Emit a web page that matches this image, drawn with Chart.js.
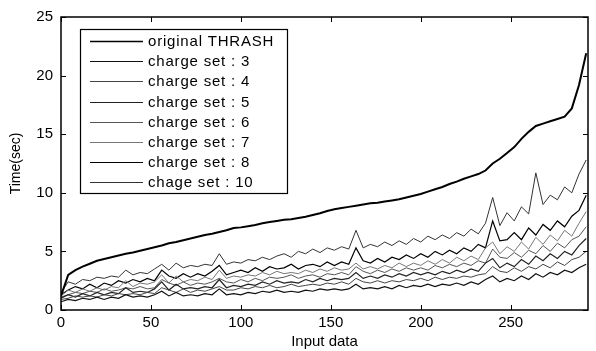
<!DOCTYPE html>
<html>
<head>
<meta charset="utf-8">
<script src="https://cdn.jsdelivr.net/npm/chart.js@4.4.1/dist/chart.umd.min.js"></script>
<style>
html, body { margin: 0; padding: 0; background: #fff; }
#wrap { width: 596px; height: 351px; }
</style>
</head>
<body>
<div id="wrap"><canvas id="timeChart" width="596" height="351"></canvas></div>
<script>
// input data index (x)
var inputX = [
    0, 4, 8, 12, 16, 20, 24, 28, 32, 36,
    40, 44, 48, 52, 56, 60, 64, 68, 72, 76,
    80, 84, 88, 92, 96, 100, 104, 108, 112, 116,
    120, 124, 128, 132, 136, 140, 144, 148, 152, 156,
    160, 164, 168, 172, 176, 180, 184, 188, 192, 196,
    200, 204, 208, 212, 216, 220, 224, 228, 232, 236,
    240, 244, 248, 252, 256, 260, 264, 268, 272, 276,
    280, 284, 288, 292
];

var originalThrash = [
    1.2, 3.0, 3.4, 3.7, 3.95, 4.2, 4.35, 4.5, 4.65, 4.8,
    4.9, 5.05, 5.2, 5.35, 5.5, 5.7, 5.8, 5.95, 6.1, 6.25,
    6.4, 6.5, 6.65, 6.8, 7.0, 7.05, 7.15, 7.25, 7.4, 7.5,
    7.6, 7.7, 7.75, 7.85, 7.95, 8.1, 8.25, 8.45, 8.6, 8.7,
    8.8, 8.9, 9.0, 9.1, 9.15, 9.25, 9.35, 9.45, 9.6, 9.75,
    9.9, 10.1, 10.3, 10.5, 10.75, 10.95, 11.2, 11.4, 11.6, 11.9,
    12.5, 12.9, 13.4, 13.9, 14.6, 15.2, 15.7, 15.9, 16.1, 16.3,
    16.5, 17.2, 19.2, 21.9
];

var chargeSet3 = [
    0.7, 0.9, 0.8, 1.0, 0.9, 1.1, 0.9, 1.1, 1.0, 1.3,
    1.1, 1.2, 1.1, 1.3, 1.6, 1.2, 1.5, 1.2, 1.3, 1.2,
    1.4, 1.3, 1.8, 1.3, 1.4, 1.3, 1.5, 1.4, 1.6, 1.5,
    1.7, 1.5, 1.6, 1.5, 1.7, 1.6, 1.8, 1.7, 1.8, 1.7,
    1.8, 2.2, 1.8, 1.9, 1.8, 2.0, 1.8, 2.1, 1.9, 2.1,
    2.0, 2.2, 2.0, 2.2, 2.1, 2.3, 2.1, 2.4, 2.2, 2.6,
    2.9, 2.4, 2.7, 2.5, 2.9, 2.6, 3.1, 2.8, 3.2, 3.0,
    3.4, 3.2, 3.6, 3.9
];

var chargeSet4 = [
    0.9, 1.0, 1.2, 1.1, 1.2, 1.1, 1.3, 1.2, 1.4, 1.3,
    1.4, 1.3, 1.5, 1.4, 1.9, 1.7, 1.5, 1.8, 1.5, 1.7,
    1.6, 1.8, 2.0, 1.7, 1.7, 1.9, 1.8, 2.0, 1.9, 2.1,
    1.9, 2.0, 2.2, 2.0, 2.1, 2.2, 2.1, 2.3, 2.2, 2.4,
    2.2, 2.7, 2.4, 2.3, 2.5, 2.3, 2.5, 2.4, 2.6, 2.5,
    2.7, 2.5, 2.8, 2.6, 2.8, 2.7, 2.9, 2.8, 3.0, 3.1,
    3.7, 3.3, 3.2, 3.6, 3.3, 3.7, 3.5, 3.9, 3.6, 4.1,
    3.8, 4.3, 4.5, 5.0
];

var chargeSet5 = [
    1.0, 1.3, 1.1, 1.4, 1.2, 1.5, 1.3, 1.5, 1.4, 1.9,
    1.5, 1.6, 1.5, 1.8, 2.4, 1.7, 2.2, 1.8, 1.9, 1.8,
    2.0, 1.9, 2.6, 1.9, 2.1, 2.0, 2.2, 2.1, 2.4, 2.2,
    2.5, 2.3, 2.4, 2.3, 2.6, 2.4, 2.7, 2.5, 2.7, 2.6,
    2.7, 3.2, 2.7, 2.9, 2.7, 3.0, 2.8, 3.1, 2.9, 3.2,
    3.0, 3.2, 3.0, 3.3, 3.1, 3.4, 3.2, 3.5, 3.3, 4.0,
    4.4, 3.6, 4.0, 3.7, 4.3, 3.9, 4.6, 4.2, 4.8, 4.4,
    5.0, 4.7, 5.5, 6.1
];

var chargeSet6 = [
    1.1, 1.3, 1.5, 1.4, 1.6, 1.5, 1.8, 1.6, 1.7, 1.9,
    1.8, 2.0, 1.8, 1.9, 2.6, 2.3, 2.1, 2.4, 2.1, 2.3,
    2.2, 2.4, 2.7, 2.4, 2.3, 2.6, 2.4, 2.7, 2.5, 2.8,
    2.7, 2.8, 3.0, 2.7, 2.9, 3.0, 2.8, 3.1, 3.0, 3.2,
    3.0, 3.7, 3.3, 3.1, 3.4, 3.2, 3.5, 3.3, 3.6, 3.4,
    3.6, 3.4, 3.8, 3.6, 3.9, 3.7, 4.0, 3.8, 4.2, 4.0,
    5.2, 4.5, 4.4, 4.9, 4.5, 5.1, 4.8, 5.5, 5.0, 5.7,
    5.3, 6.0, 6.3, 7.1
];

var chargeSet7 = [
    1.2, 1.7, 1.5, 1.8, 1.6, 1.9, 1.7, 2.0, 1.9, 2.5,
    2.0, 2.3, 2.2, 2.4, 3.0, 2.3, 2.9, 2.4, 2.6, 2.5,
    2.8, 2.6, 3.4, 2.7, 2.9, 2.8, 3.0, 2.9, 3.2, 3.0,
    3.3, 3.1, 3.2, 3.1, 3.4, 3.2, 3.5, 3.3, 3.6, 3.4,
    3.5, 4.0, 3.5, 3.7, 3.5, 3.8, 3.6, 4.0, 3.7, 4.0,
    3.8, 4.2, 3.9, 4.3, 4.0, 4.5, 4.2, 4.6, 4.3, 5.3,
    5.8, 4.8, 5.4, 5.0, 5.8, 5.2, 6.2, 5.6, 6.4, 5.9,
    6.8, 6.3, 7.4, 8.4
];

var chargeSet8 = [
    1.3, 1.7, 2.0, 1.8, 2.2, 1.9, 2.3, 2.1, 2.5, 2.3,
    2.6, 2.4, 2.7, 2.5, 3.4, 2.9, 2.7, 3.1, 2.8, 3.1,
    2.9, 3.3, 3.8, 3.0, 3.2, 3.4, 3.2, 3.6, 3.3, 3.7,
    3.5, 3.6, 3.9, 3.5, 3.8, 3.9, 3.7, 4.1, 3.8, 4.1,
    3.9, 5.3, 4.2, 4.0, 4.4, 4.1, 4.5, 4.3, 4.7, 4.4,
    4.8, 4.5, 5.0, 4.7, 5.1, 4.8, 5.3, 5.0, 5.6, 5.3,
    7.6, 5.9, 6.0, 6.6, 6.0, 7.0, 6.4, 7.3, 6.8, 7.6,
    7.1, 8.0, 8.5, 9.8
];

var chargeSet10 = [
    1.5, 2.4, 2.2, 2.6, 2.5, 2.8, 2.7, 2.9, 2.8, 3.4,
    3.0, 3.2, 3.1, 3.5, 3.9, 3.4, 4.0, 3.6, 3.8, 3.7,
    3.9, 3.8, 4.8, 3.9, 4.1, 4.0, 4.3, 4.2, 4.5, 4.3,
    4.6, 4.8, 4.5, 5.0, 4.8, 5.2, 4.9, 5.3, 5.1, 5.4,
    5.2, 6.8, 5.3, 5.6, 5.4, 5.8, 5.5, 5.9, 5.6, 6.1,
    5.8, 6.3, 6.0, 6.4, 6.1, 6.6, 6.3, 6.9, 6.5, 7.4,
    9.6, 7.2, 8.3, 7.6, 8.8, 8.2, 11.7, 9.0, 9.8, 9.4,
    10.5, 10.0, 11.6, 12.8
];

var seriesLabels = ['original THRASH', 'charge set : 3', 'charge set : 4', 'charge set : 5',
    'charge set : 6', 'charge set : 7', 'charge set : 8', 'chage set : 10'];
var seriesValues = [originalThrash, chargeSet3, chargeSet4, chargeSet5,
    chargeSet6, chargeSet7, chargeSet8, chargeSet10];
var seriesColors = ['#000000', '#111111', '#444444', '#222222', '#555555', '#777777', '#000000', '#333333'];
var seriesWidths = [2, 1.2, 1, 1.2, 1, 1, 1.2, 1];

var xTicks = [0, 50, 100, 150, 200, 250];
var yTicks = [0, 5, 10, 15, 20, 25];

function toPoints(values) {
    return values.map(function (v, i) { return { x: inputX[i], y: v }; });
}

var datasets = seriesValues.map(function (values, i) {
    return {
        label: seriesLabels[i],
        data: toPoints(values),
        borderColor: seriesColors[i],
        borderWidth: seriesWidths[i],
        pointRadius: 0,
        tension: 0,
        fill: false
    };
});

var fontName = '"Liberation Sans", Arial, sans-serif';

// frame + inward tick marks, matlab style
var frameTicks = {
    id: 'frameTicks',
    afterDatasetsDraw: function (chart) {
        var ctx = chart.ctx;
        var a = chart.chartArea;
        var xs = chart.scales.x, ys = chart.scales.y;
        ctx.save();
        ctx.strokeStyle = '#000';
        ctx.lineWidth = 1;
        ctx.beginPath();
        xs.ticks.forEach(function (t) {
            var px = Math.round(xs.getPixelForValue(t.value)) + 0.5;
            ctx.moveTo(px, a.bottom); ctx.lineTo(px, a.bottom - 5);
            ctx.moveTo(px, a.top); ctx.lineTo(px, a.top + 5);
        });
        ys.ticks.forEach(function (t) {
            var py = Math.round(ys.getPixelForValue(t.value)) + 0.5;
            ctx.moveTo(a.left, py); ctx.lineTo(a.left + 5, py);
            ctx.moveTo(a.right, py); ctx.lineTo(a.right - 5, py);
        });
        ctx.stroke();
        ctx.lineWidth = 1.5;
        ctx.strokeRect(a.left, a.top, a.right - a.left, a.bottom - a.top);
        ctx.restore();
    }
};

// legend box inside the axes, upper left
var boxLegend = {
    id: 'boxLegend',
    afterDatasetsDraw: function (chart) {
        var ctx = chart.ctx;
        var a = chart.chartArea;
        var left = a.left + 19, top = a.top + 12;
        var w = 207, h = 164;
        ctx.save();
        ctx.fillStyle = '#fff';
        ctx.fillRect(left, top, w, h);
        ctx.strokeStyle = '#000';
        ctx.lineWidth = 1.2;
        ctx.strokeRect(left + 0.5, top + 0.5, w, h);
        ctx.font = '15px ' + fontName;
        ctx.letterSpacing = '0.8px';
        ctx.textBaseline = 'middle';
        chart.data.datasets.forEach(function (ds, i) {
            var y = Math.round(top + 12 + i * 20.2) + 0.5;
            ctx.strokeStyle = ds.borderColor;
            ctx.lineWidth = Math.min(ds.borderWidth, 1.5);
            ctx.beginPath();
            ctx.moveTo(left + 10, y);
            ctx.lineTo(left + 63, y);
            ctx.stroke();
            ctx.fillStyle = '#000';
            ctx.fillText(ds.label, left + 68, y);
        });
        ctx.restore();
    }
};

var timeChart = new Chart(document.getElementById('timeChart').getContext('2d'), {
    type: 'line',
    data: { datasets: datasets },
    options: {
        responsive: false,
        animation: false,
        devicePixelRatio: 1,
        layout: { padding: { left: 0, top: 11, right: 8, bottom: 0 } },
        plugins: {
            legend: { display: false },
            tooltip: { enabled: false }
        },
        scales: {
            x: {
                type: 'linear',
                min: 0,
                max: 293,
                afterBuildTicks: function (scale) {
                    scale.ticks = xTicks.map(function (v) { return { value: v }; });
                },
                afterFit: function (scale) { scale.height = 41; },
                grid: { display: false, drawTicks: false },
                border: { display: false },
                ticks: { color: '#000', padding: 4, font: { family: fontName, size: 15 } },
                title: {
                    display: true, text: 'Input data', color: '#000',
                    font: { family: fontName, size: 15 }, padding: { top: 0, bottom: 0 }
                }
            },
            y: {
                min: 0,
                max: 25,
                afterBuildTicks: function (scale) {
                    scale.ticks = yTicks.map(function (v) { return { value: v }; });
                },
                afterFit: function (scale) { scale.width = 61; },
                grid: { display: false, drawTicks: false },
                border: { display: false },
                ticks: { color: '#000', padding: 8, font: { family: fontName, size: 15 } },
                title: {
                    display: true, text: 'Time(sec)', color: '#000',
                    font: { family: fontName, size: 14 }, padding: { top: 8, bottom: 0 }
                }
            }
        }
    },
    plugins: [frameTicks, boxLegend]
});
</script>
</body>
</html>
